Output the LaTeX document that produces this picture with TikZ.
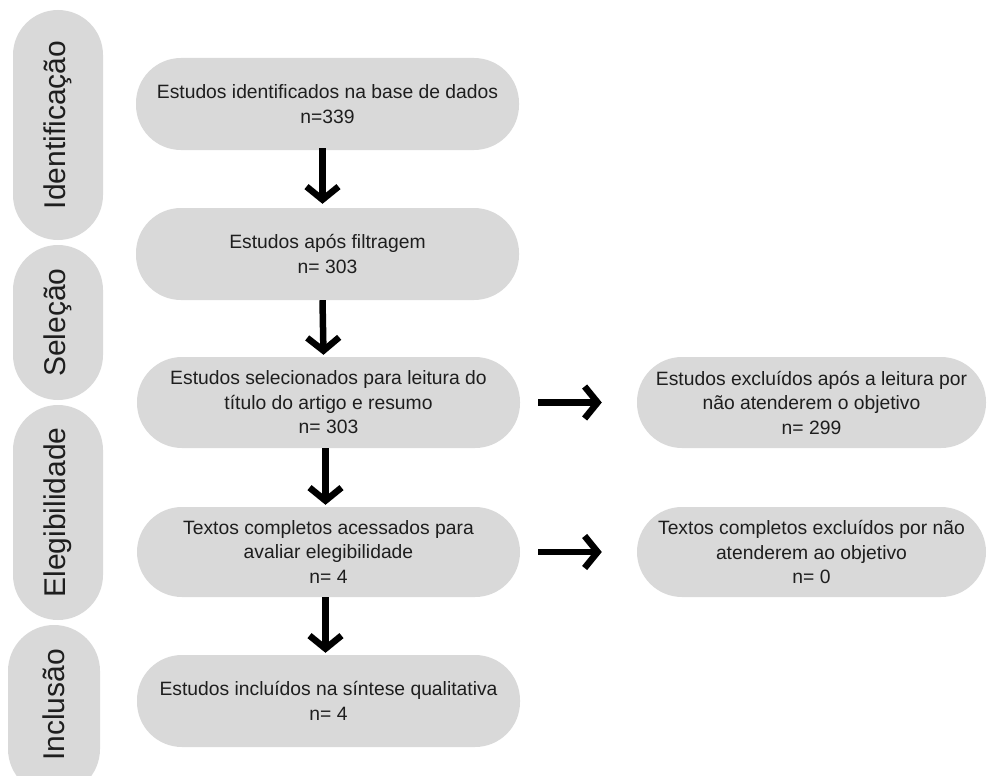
\documentclass[tikz,border=0pt]{standalone}
\usepackage{fontspec}
\setmainfont{Liberation Sans}
\usetikzlibrary{arrows.meta}
\definecolor{pillgray}{HTML}{D9D9D9}
\definecolor{txt}{HTML}{1E1E1E}
\tikzset{
  stagebox/.style={fill=pillgray, draw=none, rectangle, rounded corners=45pt, minimum width=90pt, inner sep=0pt, text=txt, font=\fontsize{30}{36}\selectfont},
  stagetext/.style={rotate=90, text=txt, font=\fontsize{30}{36}\selectfont, inner sep=0pt},
  flowbox/.style={fill=pillgray, draw=none, rectangle, rounded corners=45pt, minimum width=383pt, minimum height=91pt, inner sep=0pt, align=center, text=txt, font=\fontsize{19.3}{24.5}\selectfont},
  sidebox/.style={flowbox, minimum width=349pt},
  arr/.style={line width=6.5pt, line join=miter, -{Straight Barb[length=13pt,width=32pt]}, black}
}
\begin{document}
\begin{tikzpicture}[x=1pt,y=-1pt]
\useasboundingbox (0,0) rectangle (988,776);
\clip (0,0) rectangle (988,776);
% stage pills
\node[stagebox, minimum height=230pt] (s1) at (58,125) {};
\node[stagetext] (t1) at (s1.center) {Identificação};
\node[stagebox, minimum height=155pt] (s2) at (58,322.5) {};
\node[stagetext] (t2) at (s2.center) {Seleção};
\node[stagebox, minimum height=215pt] (s3) at (58,512.5) {};
\node[stagetext] (t3) at (s3.center) {Elegibilidade};
\node[stagebox, minimum height=170pt, minimum width=92pt, rounded corners=46pt] (s4) at (54,710) {};
\node[stagetext] (t4) at (54,705) {Inclusão};
% flow boxes
\node[flowbox, minimum height=92pt] (b1) at (327.5,104) {Estudos identificados na base de dados\\n=339};
\node[flowbox, minimum height=92pt] (b2) at (327.5,254) {Estudos após filtragem\\n= 303};
\node[flowbox] (b3) at (328.5,402.5) {Estudos selecionados para leitura do\\título do artigo e resumo\\n= 303};
\node[flowbox, minimum height=90pt] (b4) at (328.5,552) {Textos completos acessados para\\avaliar elegibilidade\\n= 4};
\node[flowbox, minimum height=92pt] (b5) at (328.5,701) {Estudos incluídos na síntese qualitativa\\n= 4};
\node[sidebox] (r1) at (811.5,402.5) {Estudos excluídos após a leitura por\\não atenderem o objetivo\\n= 299};
\node[sidebox, minimum height=90pt] (r2) at (811.5,552) {Textos completos excluídos por não\\atenderem ao objetivo\\n= 0};
% arrows
\draw[arr] ([xshift=-5pt,yshift=2pt]b1.south) -- ([xshift=-5pt,yshift=4pt]b2.north);
\draw[arr] ([xshift=-5pt]b2.south) -- ([xshift=-5pt,yshift=2pt]b3.north);
\draw[arr] ([xshift=-3pt]b3.south) -- ([xshift=-3pt,yshift=2pt]b4.north);
\draw[arr] ([xshift=-3pt]b4.south) -- ([xshift=-3pt,yshift=2pt]b5.north);
\draw[arr] ([xshift=18pt]b3.east) -- ([xshift=-35pt]r1.west);
\draw[arr] ([xshift=18pt]b4.east) -- ([xshift=-35pt]r2.west);
\end{tikzpicture}
\end{document}
